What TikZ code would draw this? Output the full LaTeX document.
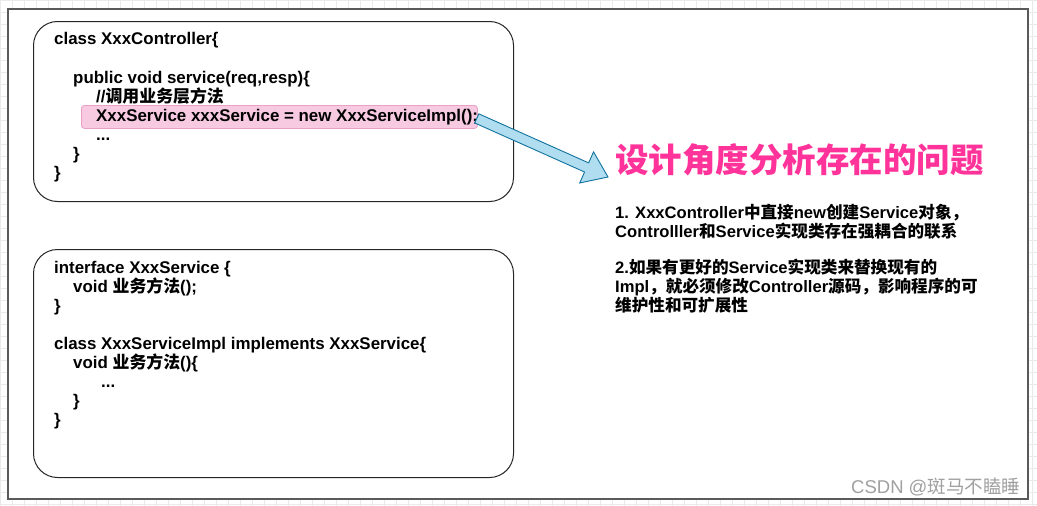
\documentclass[tikz,border=0pt]{standalone}
\usepackage{fontspec}
\setmainfont{Liberation Sans}
\newfontfamily\cjk{Noto Sans CJK SC}
\usetikzlibrary{calc}
\newcommand{\zh}[1]{{\cjk #1}}
\definecolor{hlfill}{RGB}{247,202,225}
\definecolor{hldraw}{RGB}{232,160,198}
\definecolor{arrfill}{RGB}{177,221,240}
\definecolor{arrdraw}{RGB}{16,115,158}
\definecolor{titlepink}{RGB}{255,51,153}
\definecolor{wmgray}{RGB}{160,160,160}
\definecolor{framegray}{RGB}{90,90,90}
\definecolor{gridc}{RGB}{234,234,234}
\begin{document}
\begin{tikzpicture}[x=1pt,y=-1pt,
  codeline/.style={anchor=base west, inner sep=0pt, font=\fontsize{16.9}{19}\selectfont\bfseries},
  paraline/.style={anchor=base west, inner sep=0pt, font=\fontsize{16.6}{19}\selectfont\bfseries},
  codebox/.style={draw=black!85, line width=1pt, rounded corners=24pt, fill=white, anchor=north west, inner sep=0pt},
  hlbox/.style={draw=hldraw, fill=hlfill, line width=0.8pt, rounded corners=3pt, anchor=north west, inner sep=0pt},
  blockarrow/.style={draw=arrdraw, fill=arrfill, line width=0.9pt, line join=miter},
  titletext/.style={anchor=base west, inner sep=0pt, text=titlepink, font=\fontsize{33.5}{40}\selectfont\bfseries},
  wmtext/.style={anchor=base west, inner sep=0pt, text=wmgray, font=\fontsize{18.5}{20}\selectfont}]
\useasboundingbox (0,0) rectangle (1037,506);
% background grid
\draw[gridc, line width=0.6pt] (0,0) grid[step=12pt] (1037,506);
% frame
\draw[framegray, line width=2pt, fill=white] (8,9) rectangle (1028,499);
% boxes
\node[codebox, minimum width=480pt, minimum height=180pt] (ctrl) at (33,21) {};
\node[codebox, minimum width=480pt, minimum height=228pt] (svc) at (33,249) {};
\node[hlbox, minimum width=396pt, minimum height=23pt] (hl) at (81,105) {};
% controller code
\node[codeline] (c1) at (54,45) {class XxxController\{};
\node[codeline] (c2) at (73,83) {public void service(req,resp)\{};
\node[codeline] (c3) at (96,102) {//\zh{调用业务层方法}};
\node[codeline] (c4) at (96,121) {XxxService xxxService = new XxxServiceImpl();};
\node[codeline] (c5) at (96,140) {...};
\node[codeline] (c6) at (73,159) {\}};
\node[codeline] (c7) at (54,178) {\}};
% service code
\node[codeline] (s1) at (54,273) {interface XxxService \{};
\node[codeline] (s2) at (73,292) {void \zh{业务方法}();};
\node[codeline] (s3) at (54,311) {\}};
\node[codeline] (s4) at (54,349) {class XxxServiceImpl implements XxxService\{};
\node[codeline] (s5) at (73,368) {void \zh{业务方法}()\{};
\node[codeline] (s6) at (101,387) {...};
\node[codeline] (s7) at (73,406) {\}};
\node[codeline] (s8) at (54,425) {\}};
% right panel
\node[titletext] (title) at (615,172) {\zh{设计角度分析存在的问题}};
\node[paraline] (p1) at (615,218) {1. XxxController\zh{中直接}new\zh{创建}Service\zh{对象，}};
\node[paraline] (p2) at (615,237) {Controlller\zh{和}Service\zh{实现类存在强耦合的联系}};
\node[paraline] (p3) at (615,273) {2.\zh{如果有更好的}Service\zh{实现类来替换现有的}};
\node[paraline] (p4) at (615,292) {Impl\zh{，就必须修改}Controller\zh{源码，影响程序的可}};
\node[paraline] (p5) at (615,311) {\zh{维护性和可扩展性}};
% block arrow
\coordinate (tail) at ($(hl.east)+(-1,1.5)$);
\coordinate (tip) at (608,177);
\coordinate (h) at ($(tail)!0.837!(tip)$);
\draw[blockarrow] ($(tail)!5pt!90:(tip)$) -- ($(h)!5pt!90:(tip)$) -- ($(h)!17pt!90:(tip)$) -- (tip)
  -- ($(h)!17pt!-90:(tip)$) -- ($(h)!5pt!-90:(tip)$) -- ($(tail)!5pt!-90:(tip)$) -- cycle;
% watermark
\node[wmtext] (wm) at (851,493) {CSDN @\zh{斑马不瞌睡}};
\end{tikzpicture}
\end{document}
